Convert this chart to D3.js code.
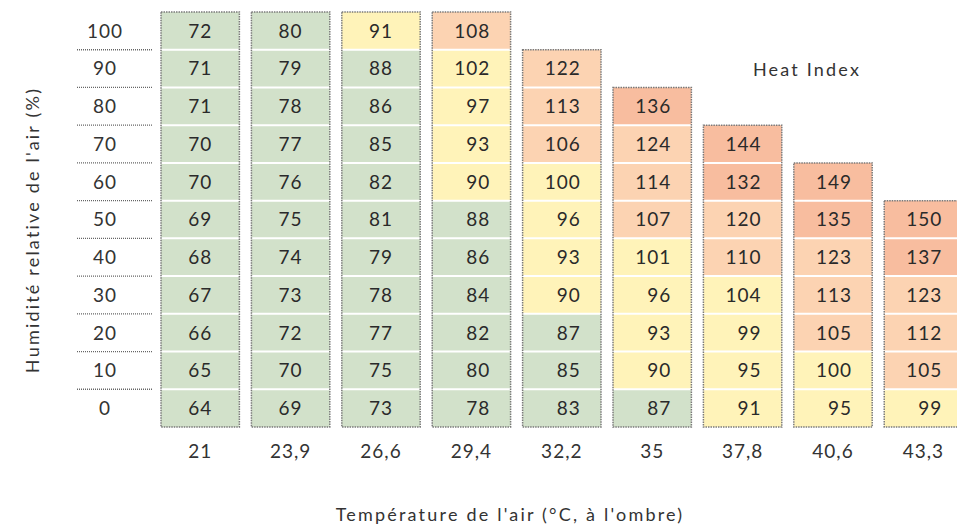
<!DOCTYPE html>
<html>
<head>
<meta charset="utf-8">
<script src="https://cdn.jsdelivr.net/npm/d3@7"></script>
<style>
  body { margin: 0; background: #fff; }
  svg { display: block; font-family: Lato, "Open Sans", sans-serif; fill: #333; }
  .num { font-size: 19px; letter-spacing: 1px; }
  .title { font-size: 18px; letter-spacing: 2.2px; }
</style>
</head>
<body>
<svg id="chart" width="957" height="528"></svg>
<script>
// temperature columns (°C) and relative humidity rows (%)
const temps = ["21", "23,9", "26,6", "29,4", "32,2", "35", "37,8", "40,6", "43,3"];
const humidity = [100, 90, 80, 70, 60, 50, 40, 30, 20, 10, 0];

// heat index per temperature, listed from 0 % humidity upward
const hi21   = [64, 65, 66, 67, 68, 69, 70, 70, 71, 71, 72];
const hi23_9 = [69, 70, 72, 73, 74, 75, 76, 77, 78, 79, 80];
const hi26_6 = [73, 75, 77, 78, 79, 81, 82, 85, 86, 88, 91];
const hi29_4 = [78, 80, 82, 84, 86, 88, 90, 93, 97, 102, 108];
const hi32_2 = [83, 85, 87, 90, 93, 96, 100, 106, 113, 122];
const hi35   = [87, 90, 93, 96, 101, 107, 114, 124, 136];
const hi37_8 = [91, 95, 99, 104, 110, 120, 132, 144];
const hi40_6 = [95, 100, 105, 113, 123, 135, 149];
const hi43_3 = [99, 105, 112, 123, 137, 150];
const columns = [hi21, hi23_9, hi26_6, hi29_4, hi32_2, hi35, hi37_8, hi40_6, hi43_3];

const svg = d3.select("#chart");

const x = d3.scaleBand()
    .domain(temps)
    .range([155, 968.6])
    .paddingInner(0.133)
    .paddingOuter(0.0665);

const y = d3.scaleBand()
    .domain(humidity)
    .range([12, 427]);

const color = d3.scaleThreshold()
    .domain([90, 105, 130])
    .range(["#d2e1ca", "#fff3b9", "#fcd3b2", "#f8bd9f"]);

const cells = [];
columns.forEach((vals, ci) => {
    vals.forEach((v, i) => {
        cells.push({ t: temps[ci], h: humidity[humidity.length - 1 - i], val: v, ci: ci });
    });
});

// row labels with dashed separators
const rowG = svg.append("g").attr("class", "rows");
rowG.selectAll("text.rowlab")
    .data(humidity)
    .enter().append("text")
    .attr("class", "num rowlab")
    .attr("x", 105)
    .attr("y", d => y(d) + y.bandwidth() / 2)
    .attr("dy", "0.36em")
    .attr("text-anchor", "middle")
    .text(d => String(d));

rowG.selectAll("line")
    .data(humidity.slice(1))
    .enter().append("line")
    .attr("x1", 77).attr("x2", 153)
    .attr("y1", d => y(d)).attr("y2", d => y(d))
    .attr("stroke", "#666")
    .attr("stroke-width", 1.3)
    .attr("stroke-dasharray", "1,1");

// cells
const cellG = svg.append("g").attr("class", "cells");
cellG.selectAll("rect")
    .data(cells)
    .enter().append("rect")
    .attr("x", d => x(d.t))
    .attr("y", d => y(d.h))
    .attr("width", x.bandwidth())
    .attr("height", y.bandwidth())
    .attr("fill", d => color(d.val));

// white separators between rows inside a column
cellG.selectAll("line")
    .data(cells.filter(d => d.h !== 0))
    .enter().append("line")
    .attr("x1", d => x(d.t)).attr("x2", d => x(d.t) + x.bandwidth())
    .attr("y1", d => y(d.h) + y.bandwidth()).attr("y2", d => y(d.h) + y.bandwidth())
    .attr("stroke", "#fff")
    .attr("stroke-width", 2);

// dotted outline around each column
svg.append("g").selectAll("rect")
    .data(columns)
    .enter().append("rect")
    .attr("x", (d, i) => x(temps[i]))
    .attr("y", d => y(humidity[humidity.length - d.length]))
    .attr("width", x.bandwidth())
    .attr("height", d => y(0) + y.bandwidth() - y(humidity[humidity.length - d.length]))
    .attr("fill", "none")
    .attr("stroke", "#7a7a7a")
    .attr("stroke-width", 1.5)
    .attr("stroke-dasharray", "1.5,1");

// numbers in the cells
const hasBig = columns.map(c => d3.max(c) >= 100);
svg.append("g").attr("class", "values").selectAll("text.cellval")
    .data(cells)
    .enter().append("text")
    .attr("class", "num cellval")
    .attr("x", d => x(d.t) + x.bandwidth() / 2 + (hasBig[d.ci] ? 19 : 0))
    .attr("y", d => y(d.h) + y.bandwidth() / 2)
    .attr("dy", "0.36em")
    .attr("text-anchor", d => hasBig[d.ci] ? "end" : "middle")
    .style("fill", "#2a2a2a")
    .text(d => String(d.val));

// column labels
svg.append("g").attr("class", "cols").selectAll("text.collab")
    .data(temps)
    .enter().append("text")
    .attr("class", "num collab")
    .attr("x", d => x(d) + x.bandwidth() / 2)
    .attr("y", 451)
    .attr("dy", "0.36em")
    .attr("text-anchor", "middle")
    .text(d => d);

svg.append("text")
    .attr("class", "title")
    .attr("x", 807)
    .attr("y", 70)
    .attr("dy", "0.36em")
    .attr("text-anchor", "middle")
    .text("Heat Index");

svg.append("text")
    .attr("class", "title")
    .attr("x", 510)
    .attr("y", 521)
    .attr("text-anchor", "middle")
    .text("Température de l'air (°C, à l'ombre)");

svg.append("text")
    .attr("class", "title")
    .attr("transform", "translate(39,230) rotate(-90)")
    .attr("text-anchor", "middle")
    .text("Humidité relative de l'air (%)");
</script>
</body>
</html>
